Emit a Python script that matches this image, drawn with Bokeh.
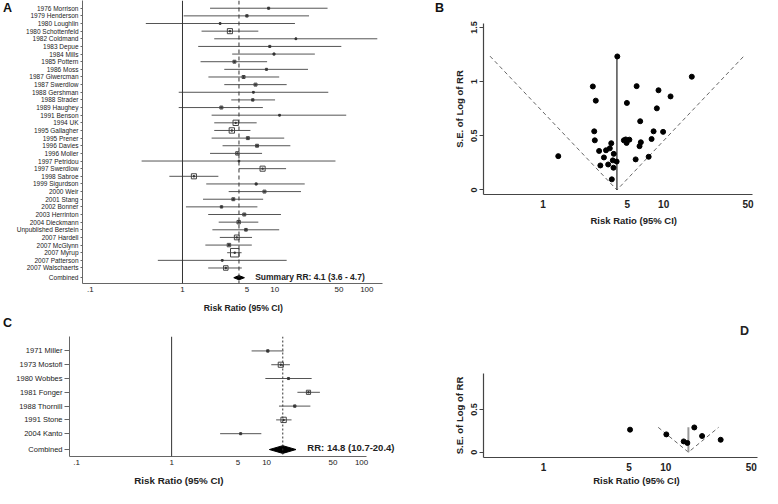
import math
from bokeh.plotting import figure
from bokeh.layouts import row, column
from bokeh.models import (Range1d, FixedTicker, Span, Label, Div, LogAxis,
                          ColumnDataSource)
from bokeh.embed import file_html
from bokeh.resources import INLINE

# ---------------- Panel A : forest plot (35 studies) ----------------
a_studies = ["1976 Morrison", "1979 Henderson", "1980 Loughlin", "1980 Schottenfeld",
             "1982 Coldmand", "1983 Depue", "1984 Mills", "1985 Pottern", "1986 Moss",
             "1987 Giwercman", "1987 Swerdlow", "1988 Gershman", "1988 Strader",
             "1989 Haughey", "1991 Benson", "1994 UK", "1995 Gallagher", "1995 Prener",
             "1996 Davies", "1996 Moller", "1997 Petridou", "1997 Swerdlow", "1998 Sabroe",
             "1999 Sigurdson", "2000 Weir", "2001 Stang", "2002 Bonner", "2003 Herrinton",
             "2004 Dieckmann", "Unpublished Berstein", "2007 Hardell", "2007 McGlynn",
             "2007 Myrup", "2007 Patterson", "2007 Walschaerts"]
a_rr = [8.6, 5.0, 2.56, 3.27, 17.0, 8.85, 9.84, 3.66, 8.15, 4.6, 6.2, 5.88, 5.79, 2.64,
        11.3, 3.78, 3.43, 5.12, 6.44, 3.94, 4.1, 7.4, 1.33, 6.3, 7.75, 3.56, 2.65, 4.68,
        4.07, 4.88, 3.88, 3.19, 3.69, 2.7, 2.95]
a_lo = [1.99, 1.03, 0.40, 1.61, 2.21, 1.48, 3.46, 1.57, 2.84, 1.91, 2.84, 0.91, 3.38, 0.91,
        2.07, 2.21, 2.21, 2.07, 2.72, 1.99, 0.36, 4.1, 0.72, 1.81, 3.17, 1.67, 1.09, 1.9,
        2.47, 2.11, 2.54, 1.77, 3.05, 0.54, 1.9]
a_hi = [37.5, 23.6, 16.6, 6.65, 130.0, 52.9, 27.3, 8.28, 23.0, 11.2, 13.5, 38.2, 10.1, 7.45,
        59.8, 6.38, 5.46, 12.7, 14.8, 7.3, 45.7, 13.3, 2.45, 21.2, 19.3, 7.5, 6.5, 11.7,
        6.65, 11.2, 5.68, 5.65, 4.38, 13.5, 4.4]
a_weight = [1.5, 2, 1, 9, 1, 1.5, 1.5, 3, 1.5, 3, 3, 1, 2, 3, 1, 10, 10, 3, 3, 4, 0.8, 9,
            9, 1.5, 3, 3, 2, 3, 4, 2.5, 8, 4, 25, 1, 7]
a_summary = [4.1, 3.6, 4.7]           # RR, lower, upper
a_summary_text = "Summary RR: 4.1 (3.6 - 4.7)"

forest_ticks = [0.1, 1, 5, 10, 50, 100]
forest_tick_labels = [".1", "1", "5", "10", "50", "100"]

# ---------------- Panel B : funnel plot of panel A ----------------
b_rr = [1.34, 2.59, 2.74, 2.66, 2.69, 2.92, 2.99, 3.2, 3.33, 3.47, 3.58, 3.68, 3.72, 3.79,
        3.86, 3.84, 4.08, 4.13, 4.68, 4.85, 4.93, 4.96, 5.2, 5.97, 5.86, 6.31, 6.39, 6.47,
        7.51, 7.94, 8.25, 8.78, 9.06, 9.89, 11.4, 17.1]
b_se = [0.312, 0.955, 0.824, 0.541, 0.458, 0.36, 0.226, 0.30, 0.366, 0.235, 0.384, 0.431,
        0.098, 0.273, 0.333, 0.205, 0.262, 1.232, 0.458, 0.466, 0.434, 0.803, 0.464, 0.958,
        0.282, 0.404, 0.634, 0.44, 0.306, 0.47, 0.541, 0.753, 0.92, 0.536, 0.863, 1.045]
b_center = 4.1
b_se_max = 1.235
funnel_ticks = [1, 5, 10, 50]
funnel_tick_labels = ["1", "5", "10", "50"]
b_se_ticks = [0, 0.5, 1, 1.5]
b_se_tick_labels = ["0", "0.5", "1", "1.5"]

# ---------------- Panel C : forest plot (7 studies) ----------------
c_studies = ["1971 Miller", "1973 Mostofi", "1980 Wobbes", "1981 Fonger", "1988 Thornill",
             "1991 Stone", "2004 Kanto"]
c_rr = [10.3, 14.1, 17.0, 27.6, 19.8, 15.1, 5.33]
c_lo = [6.95, 11.2, 9.7, 21.1, 13.5, 12.6, 3.24]
c_hi = [15.1, 17.6, 29.8, 36.4, 28.9, 18.3, 8.8]
c_weight = [2, 9, 1.5, 6, 2, 10, 1.5]
c_summary = [14.8, 10.7, 20.4]
c_summary_text = "RR:  14.8 (10.7-20.4)"

# ---------------- Panel D : funnel plot of panel C ----------------
d_rr = [5.1, 10.1, 14.0, 15.0, 17.1, 19.8, 28.1]
d_se = [0.263, 0.208, 0.126, 0.108, 0.289, 0.189, 0.145]
d_center = 15.3
d_se_max = 0.29
d_se_ticks = [0, 0.5]
d_se_tick_labels = ["0", "0.5"]

x_title = "Risk Ratio (95% CI)"
y_title = "S.E. of Log of RR"

# ---------------- layout helpers (reference pixel -> page pixel) ----------------
SX = 762 / 778
SY = 488 / 504


def px(v):
    return int(round(v * SX))


def py(v):
    return int(round(v * SY))


FONT = "Liberation Sans"
INK = "#222222"


def ref_to_logx(frame, xr, rx):
    fx0, fx1 = frame[0], frame[2]
    l0, l1 = math.log10(xr[0]), math.log10(xr[1])
    return 10 ** (l0 + (rx - fx0) / (fx1 - fx0) * (l1 - l0))


def make_panel(box, frame, xr, yr):
    bx0, by0, bx1, by1 = box
    fx0, fy0, fx1, fy1 = frame
    p = figure(width=px(bx1) - px(bx0), height=py(by1) - py(by0), title=None,
               x_axis_type="log", x_range=Range1d(*xr), y_range=Range1d(*yr),
               min_border_left=px(fx0) - px(bx0), min_border_right=px(bx1) - px(fx1),
               min_border_top=py(fy0) - py(by0), min_border_bottom=py(by1) - py(fy1),
               output_backend="svg", toolbar_location=None)
    p.frame_align = False
    p.outline_line_color = None
    p.xgrid.visible = False
    p.ygrid.visible = False
    p.background_fill_color = "white"
    p.border_fill_color = "white"
    return p


def add_label(p, frame, text, rx, ry, size, align="left"):
    # text inside the plot frame, positioned in reference pixels
    fx0, fy0, fx1, fy1 = frame
    p.add_layout(Label(x=rx * SX - px(fx0), y=py(fy1) - ry * SY, x_units="screen",
                       y_units="screen", text=text, text_align=align, text_baseline="middle",
                       text_font=FONT, text_font_size=f"{size}px", text_font_style="bold",
                       text_color=INK))


def text_axis(p, frame, xr, rx, text, side, size, standoff):
    # an axis without line or ticks that carries one text at a data position
    val = ref_to_logx(frame, xr, rx)
    ax = LogAxis(ticker=FixedTicker(ticks=[val]), major_label_overrides={val: text})
    ax.axis_line_color = None
    ax.major_tick_line_color = None
    ax.minor_tick_line_color = None
    ax.major_tick_out = 0
    ax.major_tick_in = 0
    ax.minor_tick_out = 0
    ax.minor_tick_in = 0
    ax.major_label_standoff = standoff
    ax.major_label_text_font = FONT
    ax.major_label_text_font_size = f"{size}px"
    ax.major_label_text_font_style = "bold"
    ax.major_label_text_color = INK
    p.add_layout(ax, side)


def letter_div(text, width, height, pad_left, pad_top):
    return Div(text=text, width=width, height=height,
               styles={"font-family": FONT, "font-size": "12.5px", "font-weight": "bold",
                       "color": "#111111", "padding-left": f"{pad_left}px",
                       "padding-top": f"{pad_top}px", "line-height": "14px", "margin": "0",
                       "box-sizing": "border-box", "overflow": "visible"})


def forest(box, frame, xr, x_end, studies, rr, lo, hi, weight, summary,
           row_step, comb_gap, first_row_y, label_font_size, tick_out, summary_dash):
    fx0, fy0, fx1, fy1 = frame
    n = len(studies)
    rows = list(range(n))
    comb = n - 1 + comb_gap
    y_top = (fy0 - first_row_y) / row_step
    y_bot = (fy1 - first_row_y) / row_step
    p = make_panel(box, frame, xr, (y_bot, y_top))

    src = ColumnDataSource(dict(y=rows, rr=rr, lo=lo, hi=hi,
                                box=[1.7 * math.sqrt(w) for w in weight]))
    p.add_layout(Span(location=1, dimension="height", line_color="#333333", line_width=1))
    p.add_layout(Span(location=summary[0], dimension="height", line_color="#333333",
                      line_width=1, line_dash=summary_dash))
    p.segment(x0="lo", y0="y", x1="hi", y1="y", source=src, line_color="#555555", line_width=1)
    p.scatter(x="rr", y="y", size="box", marker="square", fill_color=None,
              line_color="#444444", line_width=1, source=src)
    p.scatter(x="rr", y="y", size=2.4, marker="circle", fill_color="#333333",
              line_color=None, source=src)
    h = 0.28
    p.patch(x=[summary[1], summary[0], summary[2], summary[0]],
            y=[comb, comb - h, comb, comb + h], fill_color="black", line_color="black")

    xa = p.xaxis[0]
    xa.bounds = (xr[0], x_end)
    xa.ticker = FixedTicker(ticks=forest_ticks)
    xa.major_label_overrides = {float(t): l for t, l in zip(forest_ticks, forest_tick_labels)}
    xa.major_tick_out = 0
    xa.major_tick_in = 0
    xa.minor_tick_out = 0
    xa.minor_tick_in = 0
    xa.axis_line_color = "#666666"
    xa.major_label_text_font = FONT
    xa.major_label_text_font_size = "8px"
    xa.major_label_text_color = INK
    xa.major_label_standoff = 3

    ya = p.yaxis[0]
    ticks = [float(r) for r in rows] + [float(comb)]
    ya.ticker = FixedTicker(ticks=ticks)
    ya.major_label_overrides = {t: l for t, l in zip(ticks, list(studies) + ["Combined"])}
    ya.major_tick_out = tick_out
    ya.major_tick_in = 0
    ya.minor_tick_out = 0
    ya.major_tick_line_color = "#666666"
    ya.axis_line_color = "#666666"
    ya.major_label_text_font = FONT
    ya.major_label_text_font_size = f"{label_font_size}px"
    ya.major_label_text_color = INK
    ya.major_label_standoff = 2
    return p


def funnel(box, frame, xr, yr, rr, se, center, se_max, yticks, ylabels, vline_color, vline_w):
    p = make_panel(box, frame, xr, yr)
    k = 1.96 * se_max
    p.line(x=[center * math.exp(-k), center, center * math.exp(k)], y=[se_max, 0, se_max],
           line_color="#666666", line_width=1, line_dash="4 3")
    p.line(x=[center, center], y=[0, se_max], line_color=vline_color, line_width=vline_w)
    p.scatter(x=rr, y=se, size=5, marker="circle", fill_color="black", line_color="black")

    xa = p.xaxis[0]
    xa.ticker = FixedTicker(ticks=funnel_ticks)
    xa.major_label_overrides = {float(t): l for t, l in zip(funnel_ticks, funnel_tick_labels)}
    xa.major_tick_out = 0
    xa.major_tick_in = 0
    xa.minor_tick_out = 0
    xa.minor_tick_in = 0
    xa.axis_line_color = "#444444"
    xa.axis_line_width = 1.2
    xa.major_label_text_font = FONT
    xa.major_label_text_font_size = "10px"
    xa.major_label_text_font_style = "bold"
    xa.major_label_text_color = INK
    xa.major_label_standoff = 5

    ya = p.yaxis[0]
    yt = [float(t) for t in yticks]
    ya.ticker = FixedTicker(ticks=yt)
    ya.major_label_overrides = {t: l for t, l in zip(yt, ylabels)}
    ya.major_label_orientation = "vertical"
    ya.major_tick_out = 4
    ya.major_tick_in = 0
    ya.minor_tick_out = 0
    ya.major_tick_line_color = "#444444"
    ya.axis_line_color = "#444444"
    ya.axis_line_width = 1.2
    ya.major_label_text_font = FONT
    ya.major_label_text_font_size = "9px"
    ya.major_label_text_font_style = "bold"
    ya.major_label_text_color = INK
    ya.major_label_standoff = 2
    ya.axis_label = y_title
    ya.axis_label_text_font = FONT
    ya.axis_label_text_font_size = "9.5px"
    ya.axis_label_text_font_style = "bold"
    ya.axis_label_text_color = INK
    ya.axis_label_standoff = 4
    return p


SPLIT_X = 420
B_START = 454
SPLIT_Y = 325
LETTER_W = 12
TOP_H = py(SPLIT_Y)
BOT_H = 488 - TOP_H

# Panel A
box_a = (LETTER_W, 0, SPLIT_X, SPLIT_Y)
frame_a = (84, 0, 390, 293)
xr_a = (0.0822, 148.0)
pA = forest(box_a, frame_a, xr_a, 148.0, a_studies, a_rr, a_lo, a_hi, a_weight,
            a_summary, 7.91, 1.27, 8.0, 6.5, 2, "4 3")
add_label(pA, frame_a, a_summary_text, 260, 287, 8.5)
text_axis(pA, frame_a, xr_a, 248, x_title, "below", 8.7, 8)
div_a = letter_div("A", px(LETTER_W), TOP_H, 3, 1)

# Panel B
box_b = (B_START, 0, 778, SPLIT_Y)
frame_b = (493.3, 23.3, 768, 200)
xr_b = (0.322, 54.4)
pB = funnel(box_b, frame_b, xr_b, (-0.042, 1.536), b_rr, b_se, b_center, b_se_max,
            b_se_ticks, b_se_tick_labels, "#333333", 1.3)
text_axis(pB, frame_b, xr_b, 646.7, x_title, "below", 9.5, 4)
div_b = letter_div("B", px(B_START) - px(SPLIT_X), TOP_H, round(444 * SX - px(SPLIT_X)), 1)

# Panel C (frame widened so the summary text is not clipped; axis line kept to its bounds)
box_c = (LETTER_W, SPLIT_Y, SPLIT_X, 504)
frame_c = (70, 347, 406, 471.7)
xr_c = (0.0841, 244.7)
pC = forest(box_c, frame_c, xr_c, 112.6, c_studies, c_rr, c_lo, c_hi, c_weight,
            c_summary, 14.33, 1.15, 362.0, 7.5, 5, "2 2")
add_label(pC, frame_c, c_summary_text, 313.3, 462.7, 9.5)
text_axis(pC, frame_c, xr_c, 181.7, x_title, "below", 9.8, 7)
div_c = letter_div("C", px(LETTER_W), BOT_H, 3, 1)

# Panel D
box_d = (SPLIT_X, SPLIT_Y, 778, 504)
frame_d = (492.7, 385, 772.7, 473.3)
xr_d = (0.323, 56.2)
pD = funnel(box_d, frame_d, xr_d, (-0.062, 0.919), d_rr, d_se, d_center, d_se_max,
            d_se_ticks, d_se_tick_labels, "#999999", 2)
text_axis(pD, frame_d, xr_d, 649, x_title, "below", 9.5, 1)
text_axis(pD, frame_d, xr_d, 759.5, "D", "above", 12.5, 36)

layout = column(row(div_a, pA, div_b, pB), row(div_c, pC, pD))
open("out.html", "w").write(file_html(layout, INLINE))
